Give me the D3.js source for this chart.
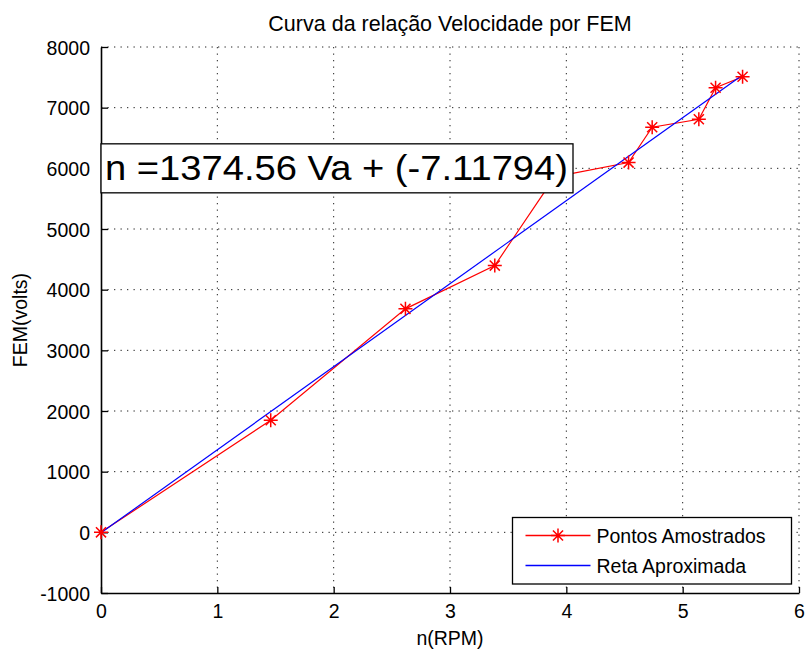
<!DOCTYPE html>
<html>
<head>
<meta charset="utf-8">
<script src="https://cdn.jsdelivr.net/npm/d3@7"></script>
<style>
  body { margin: 0; background: #fff; }
  text { font-family: "Liberation Sans", Arial, sans-serif; fill: #000; }
</style>
</head>
<body>
<div id="chart"></div>
<script>
// data
var rpm = [0, 1.459, 2.617, 3.385, 3.90, 4.535, 4.738, 5.139, 5.283, 5.515];
var fem = [0, 1847, 3684, 4397, 5860, 6095, 6678, 6809, 7329, 7510];
// fitted line end points
var fitX = [0, 5.515];
var fitY = [-7.12, 7540];
var xTicks = [0, 1, 2, 3, 4, 5, 6];
var yTicks = [-1000, 0, 1000, 2000, 3000, 4000, 5000, 6000, 7000, 8000];
var seriesNames = ["Pontos Amostrados", "Reta Aproximada"];
var titleText = "Curva da relação Velocidade por FEM";
var eqText = "n =1374.56 Va + (-7.11794)";

var margin = {top: 47, right: 6, bottom: 58, left: 101},
    width = 805 - margin.left - margin.right,
    height = 651 - margin.top - margin.bottom;

var svg = d3.select("#chart")
  .append("svg")
    .attr("width", 805)
    .attr("height", 651)
  .append("g")
    .attr("transform", "translate(" + margin.left + "," + margin.top + ")");

var x = d3.scaleLinear().domain([0, 6]).range([0, width]);
var y = d3.scaleLinear().domain([-1000, 8000]).range([height, 0]);

// grid (dotted)
svg.append("g")
  .selectAll("line")
  .data(xTicks.slice(1))
  .enter().append("line")
    .attr("x1", function(d) { return x(d); })
    .attr("x2", function(d) { return x(d); })
    .attr("y1", 0)
    .attr("y2", height)
    .style("stroke", "#222")
    .style("stroke-dasharray", "1.3,5.2");

svg.append("g")
  .selectAll("line")
  .data(yTicks.slice(1))
  .enter().append("line")
    .attr("x1", 0)
    .attr("x2", width)
    .attr("y1", function(d) { return y(d); })
    .attr("y2", function(d) { return y(d); })
    .style("stroke", "#222")
    .style("stroke-dasharray", "1.3,5.2");

// axes, MATLAB style ticks inside
var fmt = function(d) { return String(d).replace("\u2212", "-"); };
var x_axis = d3.axisBottom(x).tickValues(xTicks).tickFormat(fmt)
  .tickSizeInner(-6).tickSizeOuter(0);
var y_axis = d3.axisLeft(y).tickValues(yTicks).tickFormat(fmt)
  .tickSizeInner(-7).tickSizeOuter(0);

var gx = svg.append("g")
  .attr("transform", "translate(0," + height + ")")
  .call(x_axis);
var gy = svg.append("g").call(y_axis);

[gx, gy].forEach(function(g) {
  g.select(".domain").style("stroke", "#000").style("stroke-width", 1.6);
  g.selectAll(".tick line").style("stroke", "#000").style("stroke-width", 1.3);
  g.selectAll(".tick text")
    .style("font-family", "'Liberation Sans', Arial, sans-serif")
    .style("font-size", "19.5px")
    .style("fill", "#000");
});
gx.selectAll(".tick text").attr("y", 11).attr("dy", "0.71em");
gy.selectAll(".tick text").attr("x", -11).attr("dy", "0.36em");

// lines
var line = d3.line()
  .x(function(d) { return x(d[0]); })
  .y(function(d) { return y(d[1]); });

var pts = rpm.map(function(d, i) { return [d, fem[i]]; });
var fitPts = fitX.map(function(d, i) { return [d, fitY[i]]; });

svg.append("path")
  .datum(pts)
  .attr("d", line)
  .style("fill", "none")
  .style("stroke", "#ff0000")
  .style("stroke-width", 1.2);

svg.append("path")
  .datum(fitPts)
  .attr("d", line)
  .style("fill", "none")
  .style("stroke", "#0000ff")
  .style("stroke-width", 1.2);

// asterisk marker
function star(g, cx, cy, r) {
  var a = r * 0.72;
  var p = "M" + (cx - r) + "," + cy + "H" + (cx + r) +
          "M" + cx + "," + (cy - r) + "V" + (cy + r) +
          "M" + (cx - a) + "," + (cy - a) + "L" + (cx + a) + "," + (cy + a) +
          "M" + (cx - a) + "," + (cy + a) + "L" + (cx + a) + "," + (cy - a);
  g.append("path").attr("d", p)
    .style("stroke", "#ff0000")
    .style("stroke-width", 1.5)
    .style("fill", "none");
}

var stars = svg.append("g");
pts.forEach(function(d) { star(stars, x(d[0]), y(d[1]), 7); });

// equation annotation
var eqG = svg.append("g")
  .attr("transform", "translate(" + x(0) + "," + y(6000) + ")");
eqG.append("rect")
  .attr("x", 0)
  .attr("y", -24.5)
  .attr("width", 472)
  .attr("height", 49)
  .style("fill", "#fff")
  .style("stroke", "#000")
  .style("stroke-width", 1.3);
eqG.append("text")
  .attr("x", 4)
  .attr("y", 12)
  .attr("textLength", 463)
  .attr("lengthAdjust", "spacingAndGlyphs")
  .style("font-size", "35px")
  .text(eqText);

// legend
var lg = svg.append("g")
  .attr("transform", "translate(" + (512.5 - margin.left) + "," + (517.5 - margin.top) + ")");
lg.append("rect")
  .attr("width", 279)
  .attr("height", 66.5)
  .style("fill", "#fff")
  .style("stroke", "#000")
  .style("stroke-width", 1.3);
var legColors = ["#ff0000", "#0000ff"];
seriesNames.forEach(function(name, i) {
  var ly = 18 + i * 30;
  lg.append("line")
    .attr("x1", 13).attr("x2", 78)
    .attr("y1", ly).attr("y2", ly)
    .style("stroke", legColors[i])
    .style("stroke-width", 1.4);
  if (i === 0) star(lg, 45.5, ly, 7);
  lg.append("text")
    .attr("x", 84)
    .attr("y", ly + 7)
    .style("font-size", "19.5px")
    .text(name);
});

// title and axis labels
svg.append("text")
  .attr("x", width / 2)
  .attr("y", 31 - margin.top)
  .style("text-anchor", "middle")
  .style("font-size", "21.5px")
  .text(titleText);

svg.append("text")
  .attr("x", width / 2)
  .attr("y", 645 - margin.top)
  .style("text-anchor", "middle")
  .style("font-size", "19.5px")
  .text("n(RPM)");

svg.append("text")
  .attr("transform", "rotate(-90)")
  .attr("x", -height / 2)
  .attr("y", 27 - margin.left)
  .style("text-anchor", "middle")
  .style("font-size", "19.5px")
  .text("FEM(volts)");
</script>
</body>
</html>
